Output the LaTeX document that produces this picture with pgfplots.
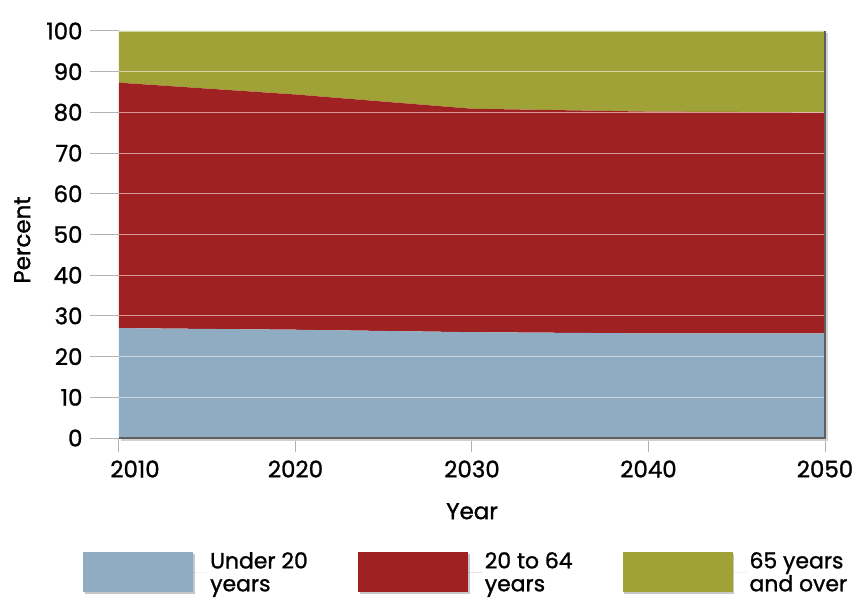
\documentclass[border=0pt]{standalone}
\usepackage{pgfplots}
\pgfplotsset{compat=1.18}
\usepackage{fontspec}
\setmainfont{Poppins}[FakeBold=1.2]

\definecolor{under20}{RGB}{143,172,194}
\definecolor{working}{RGB}{160,33,33}
\definecolor{senior}{RGB}{160,162,56}
\definecolor{tickgray}{RGB}{178,178,178}
\definecolor{framegray}{RGB}{95,95,95}

\begin{document}
\begin{tikzpicture}
\useasboundingbox (-119bp,-164bp) rectangle (738bp,438bp);
\begin{axis}[
  at={(0,0)}, anchor=south west,
  scale only axis, width=706bp, height=407bp,
  xmin=2010, xmax=2050, ymin=0, ymax=100,
  stack plots=y,
  xtick={2010,2020,2030,2040,2050},
  xticklabels={\hspace*{32bp}2010,2020,2030,2040,2050},
  ytick={0,10,...,100},
  xtick pos=bottom, ytick pos=left,
  /pgf/number format/assume math mode=true,
  /pgf/number format/1000 sep={},
  font=\fontsize{23}{26}\selectfont,
  tick align=outside, major tick length=14bp,
  x tick style={draw=tickgray, line width=1bp},
  y tick style={draw=none},
  axis line style={draw=none},
  ymajorgrids, grid style={draw=white, opacity=0.55, line width=0.9bp},
  axis on top,
  xticklabel style={anchor=north, yshift=-5bp},
  yticklabel style={anchor=east, xshift=-19bp},
  xlabel={Year}, ylabel={Percent},
  every axis x label/.style={at={(axis description cs:0.5,-0.18)}, anchor=center},
  every axis y label/.style={at={(axis description cs:-0.137,0.4865)}, anchor=center, rotate=90},
  legend columns=3,
  legend style={at={(axis description cs:-0.051,-0.2751)}, anchor=north west,
    draw=none, fill=none, inner sep=0pt,
    font=\fontsize{22}{23}\selectfont,
    cells={anchor=west, align=left},
    /tikz/every even column/.append style={column sep=48bp}},
  legend image code/.code={
    \fill[black!22] (1.8bp,-21.8bp) rectangle (111.8bp,18.2bp);
    \fill[#1] (0bp,-20bp) rectangle (110bp,20bp);
    \path (0bp,0bp) -- (125bp,0bp);
  },
]
\addplot[fill=under20, draw=none] coordinates {
  (2010,27.0) (2020,26.6) (2030,26.0) (2040,25.7) (2050,25.7)
} \closedcycle;
\addplot[fill=working, draw=none] coordinates {
  (2010,60.3) (2020,57.8) (2030,54.9) (2040,54.5) (2050,54.3)
} \closedcycle;
\addplot[fill=senior, draw=none] coordinates {
  (2010,12.7) (2020,15.6) (2030,19.1) (2040,19.8) (2050,20.0)
} \closedcycle;
\legend{{Under 20\\years},{20 to 64\\years},{65 years\\and over}}
\end{axis}
% y tick lines reaching out to the labels
\foreach \v in {0,...,10}
  \draw[tickgray, line width=1bp] (0,\v*40.7bp) -- ++(-29bp,0);
% frame shadow along the bottom and right edges
\draw[black!18, line width=2.5bp] (1.5bp,-1.8bp) -- (707.8bp,-1.8bp) -- (707.8bp,405bp);
\draw[framegray, line width=1.3bp] (0,0) -- (706bp,0) -- (706bp,407bp);
\end{tikzpicture}
\end{document}
